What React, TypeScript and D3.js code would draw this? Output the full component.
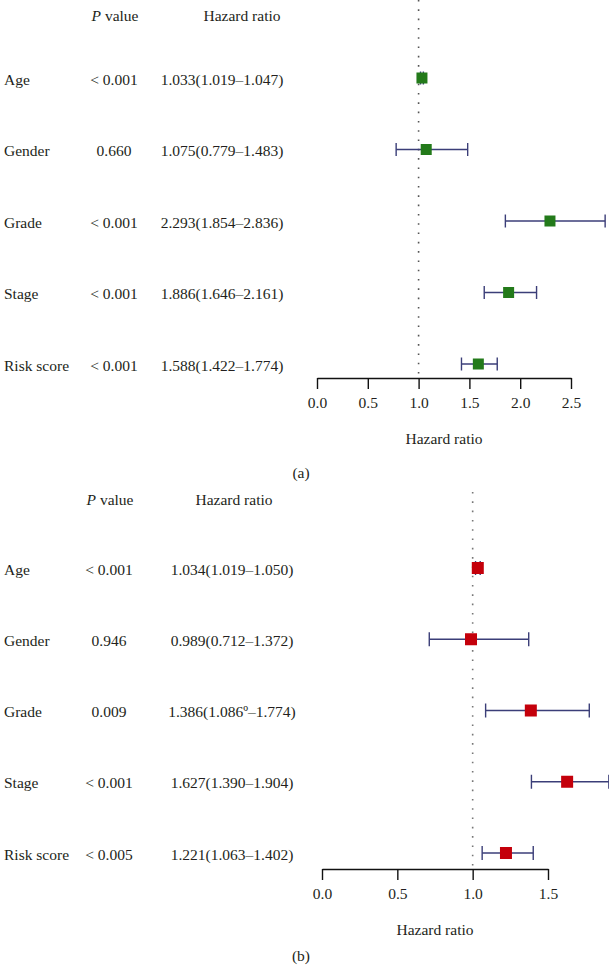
import { useEffect, useRef } from 'react'
import * as d3 from 'd3'

const variables = ['Age', 'Gender', 'Grade', 'Stage', 'Risk score']

// panel (a)
const pValuesA = ['< 0.001', '0.660', '< 0.001', '< 0.001', '< 0.001']
const hrA = [1.033, 1.075, 2.293, 1.886, 1.588]
const lowerA = [1.019, 0.779, 1.854, 1.646, 1.422]
const upperA = [1.047, 1.483, 2.836, 2.161, 1.774]
const hrLabelsA = [
  '1.033(1.019–1.047)',
  '1.075(0.779–1.483)',
  '2.293(1.854–2.836)',
  '1.886(1.646–2.161)',
  '1.588(1.422–1.774)',
]
const ticksA = [0, 0.5, 1, 1.5, 2, 2.5]

// panel (b)
const pValuesB = ['< 0.001', '0.946', '0.009', '< 0.001', '< 0.005']
const hrB = [1.034, 0.989, 1.386, 1.627, 1.221]
const lowerB = [1.019, 0.712, 1.086, 1.39, 1.063]
const upperB = [1.05, 1.372, 1.774, 1.904, 1.402]
const hrLabelsB = [
  '1.034(1.019–1.050)',
  '0.989(0.712–1.372)',
  '1.386(1.086º–1.774)',
  '1.627(1.390–1.904)',
  '1.221(1.063–1.402)',
]
const ticksB = [0, 0.5, 1, 1.5]

const WIDTH = 609
const HEIGHT = 970
const FONT = '"Liberation Serif", "DejaVu Serif", serif'
const TEXT = '#231f20'
const BAR = '#3b3e78'

interface PanelCfg {
  pValues: string[]
  hr: number[]
  lower: number[]
  upper: number[]
  hrLabels: string[]
  ticks: number[]
  xRange: [number, number]
  headerY: number
  firstRow: number
  lastRow: number
  axisY: number
  refTop: number
  pX: number
  hrX: number
  pHeadX: number
  hrHeadX: number
  marker: number
  cap: number
  color: string
  refColor: string
  letter: string
  letterY: number
}

const panels: PanelCfg[] = [
  {
    pValues: pValuesA,
    hr: hrA,
    lower: lowerA,
    upper: upperA,
    hrLabels: hrLabelsA,
    ticks: ticksA,
    xRange: [317, 571],
    headerY: 15,
    firstRow: 78,
    lastRow: 364,
    axisY: 378,
    refTop: 0,
    pX: 114,
    hrX: 222,
    pHeadX: 115,
    hrHeadX: 242,
    marker: 11,
    cap: 13,
    color: '#237a1a',
    refColor: '#555',
    letter: '(a)',
    letterY: 472,
  },
  {
    pValues: pValuesB,
    hr: hrB,
    lower: lowerB,
    upper: upperB,
    hrLabels: hrLabelsB,
    ticks: ticksB,
    xRange: [322, 548],
    headerY: 499,
    firstRow: 568,
    lastRow: 853,
    axisY: 869,
    refTop: 492,
    pX: 109,
    hrX: 232,
    pHeadX: 110,
    hrHeadX: 234,
    marker: 12,
    cap: 14,
    color: '#c4000b',
    refColor: '#777',
    letter: '(b)',
    letterY: 955,
  },
]

export default function App() {
  const svgRef = useRef<SVGSVGElement>(null)

  useEffect(() => {
    if (!svgRef.current) return
    const svg = d3.select(svgRef.current)
    svg.selectAll('*').remove()

    panels.forEach((p) => {
      const ticks = p.ticks
      const x = d3
        .scaleLinear()
        .domain([ticks[0], ticks[ticks.length - 1]])
        .range(p.xRange)
      const y = d3
        .scaleLinear()
        .domain([0, variables.length - 1])
        .range([p.firstRow, p.lastRow])

      const g = svg.append('g').attr('font-family', FONT).attr('fill', TEXT)

      // headers
      const ph = g
        .append('text')
        .attr('x', p.pHeadX)
        .attr('y', p.headerY)
        .attr('text-anchor', 'middle')
        .attr('dominant-baseline', 'central')
        .attr('font-size', 15.5)
      ph.append('tspan').attr('font-style', 'italic').text('P')
      ph.append('tspan').text(' value')

      g.append('text')
        .attr('x', p.hrHeadX)
        .attr('y', p.headerY)
        .attr('text-anchor', 'middle')
        .attr('dominant-baseline', 'central')
        .attr('font-size', 15.5)
        .text('Hazard ratio')

      // row texts
      variables.forEach((v, i) => {
        const yy = y(i) + 1
        g.append('text')
          .attr('x', 4)
          .attr('y', yy)
          .attr('dominant-baseline', 'central')
          .attr('font-size', 15.5)
          .text(v)
        g.append('text')
          .attr('x', p.pX)
          .attr('y', yy)
          .attr('text-anchor', 'middle')
          .attr('dominant-baseline', 'central')
          .attr('font-size', 15.5)
          .text(p.pValues[i])
        g.append('text')
          .attr('x', p.hrX)
          .attr('y', yy)
          .attr('text-anchor', 'middle')
          .attr('dominant-baseline', 'central')
          .attr('font-size', 15.5)
          .text(p.hrLabels[i])
      })

      // reference line at HR = 1
      g.append('line')
        .attr('x1', x(1))
        .attr('x2', x(1))
        .attr('y1', p.refTop)
        .attr('y2', p.axisY)
        .attr('stroke', p.refColor)
        .attr('stroke-width', 1.6)
        .attr('stroke-dasharray', '1.6,7.7')

      // error bars
      const bars = g
        .append('g')
        .attr('stroke', BAR)
        .attr('stroke-width', 1.4)
        .attr('fill', 'none')
      variables.forEach((_, i) => {
        const yy = y(i)
        bars
          .append('line')
          .attr('x1', x(p.lower[i]))
          .attr('x2', x(p.upper[i]))
          .attr('y1', yy)
          .attr('y2', yy)
        ;[p.lower[i], p.upper[i]].forEach((val) => {
          bars
            .append('line')
            .attr('x1', x(val))
            .attr('x2', x(val))
            .attr('y1', yy - p.cap / 2)
            .attr('y2', yy + p.cap / 2)
        })
      })

      // markers
      g.append('g')
        .selectAll('rect')
        .data(p.hr)
        .enter()
        .append('rect')
        .attr('x', (d) => x(d) - p.marker / 2)
        .attr('y', (_, i) => y(i) - p.marker / 2)
        .attr('width', p.marker)
        .attr('height', p.marker)
        .attr('fill', p.color)

      // x axis
      const axis = d3
        .axisBottom(x)
        .tickValues(ticks)
        .tickSize(11)
        .tickSizeOuter(0)
        .tickPadding(8)
        .tickFormat(d3.format('.1f'))
      const ax = g
        .append('g')
        .attr('transform', `translate(0,${p.axisY})`)
        .call(axis)
      ax.select('.domain').attr('stroke', '#111').attr('stroke-width', 1.4)
      ax.selectAll('.tick line').attr('stroke', '#111').attr('stroke-width', 1.4)
      ax.selectAll('.tick text')
        .attr('font-family', FONT)
        .attr('font-size', 15.5)
        .attr('fill', TEXT)

      const mid = (p.xRange[0] + p.xRange[1]) / 2
      g.append('text')
        .attr('x', mid)
        .attr('y', p.axisY + 60)
        .attr('text-anchor', 'middle')
        .attr('dominant-baseline', 'central')
        .attr('font-size', 15.5)
        .text('Hazard ratio')

      g.append('text')
        .attr('x', 301)
        .attr('y', p.letterY)
        .attr('text-anchor', 'middle')
        .attr('dominant-baseline', 'central')
        .attr('font-size', 15.5)
        .text(p.letter)
    })
  }, [])

  return (
    <svg
      ref={svgRef}
      width={WIDTH}
      height={HEIGHT}
      style={{ position: 'absolute', left: 0, top: 0, background: '#fff', display: 'block' }}
    />
  )
}
